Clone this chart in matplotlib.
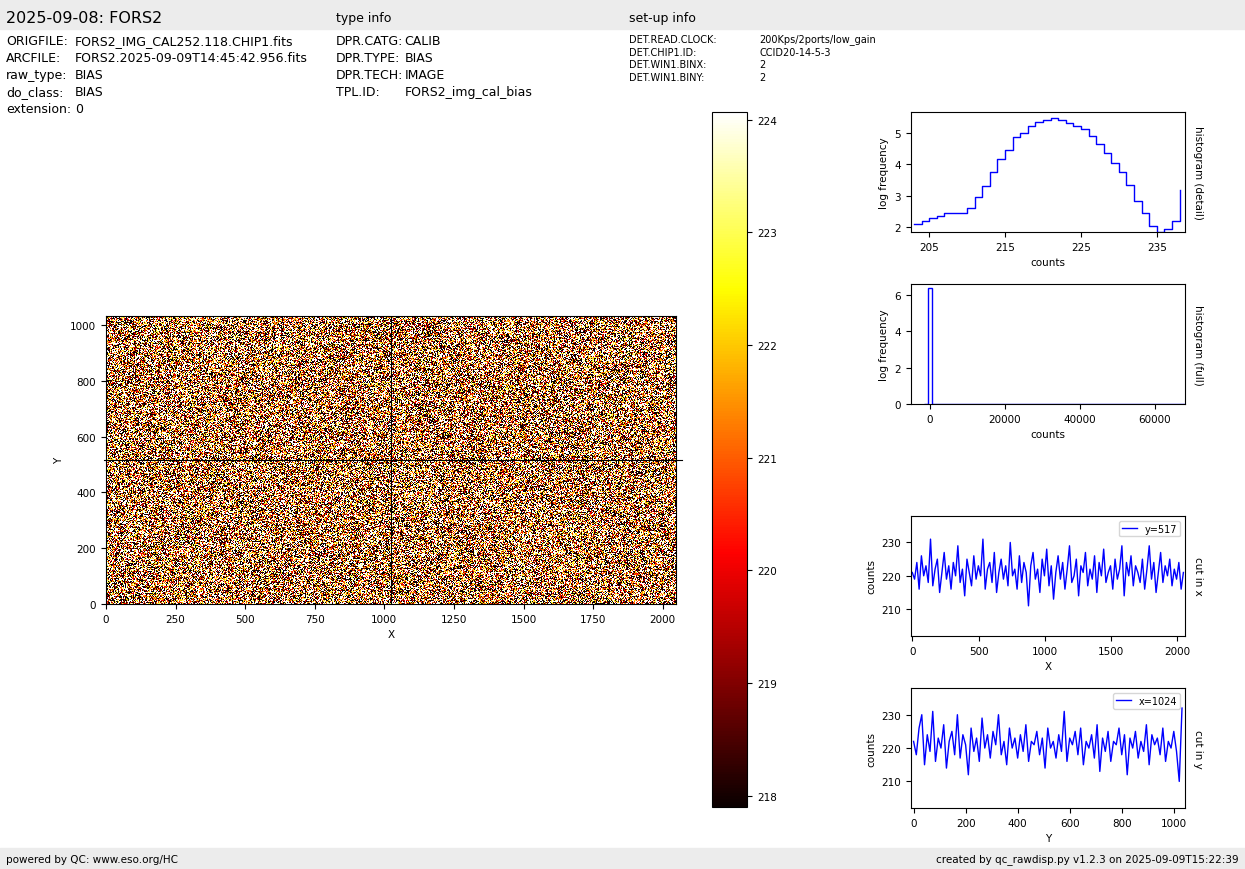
import numpy as np
import matplotlib.pyplot as plt
from matplotlib.patches import Rectangle

# header info
title = "2025-09-08: FORS2"
file_keys = ["ORIGFILE:", "ARCFILE:", "raw_type:", "do_class:", "extension:"]
file_vals = ["FORS2_IMG_CAL252.118.CHIP1.fits", "FORS2.2025-09-09T14:45:42.956.fits", "BIAS", "BIAS", "0"]
type_keys = ["DPR.CATG:", "DPR.TYPE:", "DPR.TECH:", "TPL.ID:"]
type_vals = ["CALIB", "BIAS", "IMAGE", "FORS2_img_cal_bias"]
setup_keys = ["DET.READ.CLOCK:", "DET.CHIP1.ID:", "DET.WIN1.BINX:", "DET.WIN1.BINY:"]
setup_vals = ["200Kps/2ports/low_gain", "CCID20-14-5-3", "2", "2"]

# histogram (detail), log frequency per count bin
hist_bins = list(range(203, 239))
hist_logf = [2.1, 2.2, 2.3, 2.35, 2.45, 2.45, 2.45, 2.6, 2.95, 3.3, 3.75, 4.15, 4.45, 4.85, 5.0, 5.2,
             5.35, 5.4, 5.45, 5.4, 5.3, 5.2, 5.1, 4.9, 4.65, 4.35, 4.05, 3.75, 3.35, 2.85, 2.45,
             2.05, 1.85, 1.95, 2.2, 3.2]
# histogram (full)
full_edges = [-1500, -500, 500, 68000]
full_logf = [0, 6.4, 0]

cutx_vals = [221, 219, 224, 216, 226, 220, 223, 218, 231, 217, 222, 225, 215, 221, 227, 219, 223, 216,
             224, 220, 229, 218, 222, 214, 225, 221, 217, 226, 219, 223, 220, 231, 216, 222, 224, 218,
             227, 215, 221, 225, 219, 223, 217, 230, 220, 222, 216, 226, 218, 224, 221, 211, 223, 227,
             219, 222, 215, 225, 220, 228, 217, 223, 213, 221, 226, 219, 224, 216, 222, 229, 218, 220,
             225, 214, 223, 221, 227, 217, 222, 219, 226, 215, 224, 220, 228, 218, 221, 223, 216, 225,
             219, 222, 229, 214, 224, 220, 226, 217, 223, 221, 218, 225, 216, 222, 229, 219, 224, 215,
             221, 227, 218, 223, 220, 225, 217, 222, 219, 224, 216, 221]
cuty_vals = [222, 218, 226, 230, 215, 224, 219, 231, 216, 223, 220, 227, 214, 222, 225, 218, 230, 217,
             224, 221, 212, 226, 219, 223, 216, 229, 220, 224, 217, 225, 221, 230, 218, 222, 215, 226,
             220, 223, 217, 224, 219, 227, 216, 222, 221, 225, 218, 223, 214, 226, 220, 222, 217, 224,
             219, 231, 216, 223, 221, 225, 218, 226, 215, 222, 220, 224, 217, 227, 213, 223, 219, 225,
             216, 222, 221, 226, 218, 224, 212, 223, 220, 225, 217, 222, 219, 227, 215, 224, 221, 223,
             218, 226, 216, 222, 220, 225, 219, 210, 232]

cut_row = 517
cut_col = 1024
nx, ny = 2048, 1032
vmin, vmax = 217.9, 224.07

fig = plt.figure(figsize=(12.45, 8.7), dpi=100)
fig.patches.append(Rectangle((0, 0.966), 1, 0.034, transform=fig.transFigure, color="#ececec", zorder=0))
fig.patches.append(Rectangle((0, 0), 1, 0.024, transform=fig.transFigure, color="#ececec", zorder=0))
fig.text(0.005, 0.979, title, fontsize=11.5, va="center")
fig.text(0.27, 0.979, "type info", fontsize=9, va="center")
fig.text(0.505, 0.979, "set-up info", fontsize=9, va="center")
for i, (k, v) in enumerate(zip(file_keys, file_vals)):
    y = 0.952 - i * 0.0196
    fig.text(0.005, y, k, fontsize=9, va="center")
    fig.text(0.06, y, v, fontsize=9, va="center")
for i, (k, v) in enumerate(zip(type_keys, type_vals)):
    y = 0.952 - i * 0.0196
    fig.text(0.27, y, k, fontsize=9, va="center")
    fig.text(0.325, y, v, fontsize=9, va="center")
for i, (k, v) in enumerate(zip(setup_keys, setup_vals)):
    y = 0.954 - i * 0.0145
    fig.text(0.505, y, k, fontsize=7, va="center")
    fig.text(0.61, y, v, fontsize=7, va="center")
fig.text(0.005, 0.012, "powered by QC: www.eso.org/HC", fontsize=7.5, va="center")
fig.text(0.995, 0.012, "created by qc_rawdisp.py v1.2.3 on 2025-09-09T15:22:39", fontsize=7.5,
         va="center", ha="right")

# image built by scrambling the sampled cut values (downsampled grid)
pool = np.array(cutx_vals + cuty_vals, dtype=float)
gy, gx = 344, 683
ii, jj = np.meshgrid(np.arange(gy), np.arange(gx), indexing="ij")
idx = (ii * 37 + jj * 53 + (ii * jj) % 97 + (ii * ii * 3 + jj * jj * 5) % 61) % len(pool)
img = pool[idx]

ax = fig.add_axes([0.0851, 0.3046, 0.458, 0.331])
im = ax.imshow(img, cmap="hot", vmin=vmin, vmax=vmax, origin="lower",
               extent=[0, nx, 0, ny], aspect="auto", interpolation="nearest")
ax.axvline(cut_col, color="k", lw=0.8)
ax.set_xlim(0, nx)
ax.set_ylim(0, ny)
ax.set_xlabel("X", fontsize=7.5)
ax.set_ylabel("Y", fontsize=7.5)
ax.tick_params(labelsize=7.5)
ax.axhline(cut_row, xmin=-0.003, xmax=1.01, color="k", lw=0.8, clip_on=False)

cax = fig.add_axes([0.572, 0.0713, 0.0281, 0.799])
cb = fig.colorbar(im, cax=cax)
cb.set_ticks([218, 219, 220, 221, 222, 223, 224])
cax.tick_params(labelsize=7.5)

def side_label(a, s):
    a.text(1.03, 0.5, s, transform=a.transAxes, rotation=-90, va="center", ha="left", fontsize=7.5)

a1 = fig.add_axes([0.7317, 0.732, 0.220, 0.138])
a1.step(hist_bins, hist_logf, where="post", color="blue", lw=1)
a1.set_xlim(202.6, 238.7)
a1.set_ylim(1.85, 5.65)
a1.set_xticks([205, 215, 225, 235])
a1.set_yticks([2, 3, 4, 5])
a1.set_xlabel("counts", fontsize=7.5)
a1.set_ylabel("log frequency", fontsize=7.5)
a1.tick_params(labelsize=7.5)
side_label(a1, "histogram (detail)")

a2 = fig.add_axes([0.7317, 0.5345, 0.220, 0.138])
a2.stairs(full_logf, full_edges, color="blue", lw=1)
a2.set_xlim(-5000, 68000)
a2.set_ylim(0, 6.6)
a2.set_xticks([0, 20000, 40000, 60000])
a2.set_xlabel("counts", fontsize=7.5)
a2.set_ylabel("log frequency", fontsize=7.5)
a2.tick_params(labelsize=7.5)
side_label(a2, "histogram (full)")

a3 = fig.add_axes([0.7317, 0.268, 0.220, 0.138])
a3.plot(np.linspace(0, nx - 1, len(cutx_vals)), cutx_vals, color="blue", lw=1, label="y=%d" % cut_row)
a3.set_xlim(-10, 2058)
a3.set_ylim(202, 238)
a3.set_yticks([210, 220, 230])
a3.set_xlabel("X", fontsize=7.5)
a3.set_ylabel("counts", fontsize=7.5)
a3.tick_params(labelsize=7.5)
a3.legend(fontsize=7, loc="upper right", handlelength=1.5, borderpad=0.3)
side_label(a3, "cut in x")

a4 = fig.add_axes([0.7317, 0.070, 0.220, 0.138])
a4.plot(np.linspace(0, ny - 1, len(cuty_vals)), cuty_vals, color="blue", lw=1, label="x=%d" % cut_col)
a4.set_xlim(-10, 1042)
a4.set_ylim(202, 238)
a4.set_yticks([210, 220, 230])
a4.set_xticks([0, 200, 400, 600, 800, 1000])
a4.set_xlabel("Y", fontsize=7.5)
a4.set_ylabel("counts", fontsize=7.5)
a4.tick_params(labelsize=7.5)
a4.legend(fontsize=7, loc="upper right", handlelength=1.5, borderpad=0.3)
side_label(a4, "cut in y")

fig.savefig("out.png", dpi=100)
